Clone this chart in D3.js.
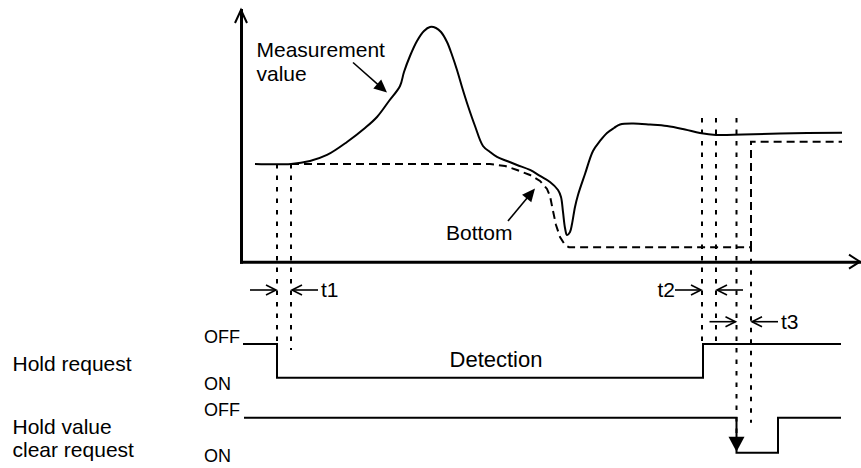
<!DOCTYPE html>
<html><head><meta charset="utf-8">
<script src="https://cdn.jsdelivr.net/npm/d3@7"></script>
<style>body{margin:0;background:#fff}svg{display:block}text{font-family:"Liberation Sans",Arial,Helvetica,sans-serif;fill:#000}</style>
</head><body><svg id="c" width="861" height="468"></svg>
<script>
// ---- data (time units, value units) ----
const measT = [1.4, 5.0, 6.9, 8.6, 10.6, 12.4, 13.6, 14.8, 15.9, 16.3, 16.9, 17.6, 18.3, 18.9, 19.5, 20.0, 20.6, 21.1, 21.6, 22.1, 22.7, 23.4, 24.2, 24.9, 25.6, 26.6, 27.6, 28.9, 29.9, 30.9, 31.7, 32.0, 32.2, 32.4, 32.6, 32.9, 33.1, 33.4, 33.7, 34.4, 35.2, 35.9, 36.6, 37.3, 37.9, 39.2, 40.9, 42.6, 44.4, 45.9, 47.5, 50.2, 53.9, 60.1];
const measV = [39.1, 39.1, 40.3, 42.7, 47.9, 53.5, 57.9, 64.3, 70.3, 75.9, 82.3, 88.3, 92.3, 93.9, 93.5, 91.9, 87.9, 82.7, 76.7, 69.9, 62.3, 54.3, 46.3, 43.9, 41.9, 40.3, 38.7, 36.7, 34.3, 31.9, 28.7, 25.9, 19.9, 13.5, 10.7, 11.9, 15.1, 21.9, 26.7, 35.1, 44.3, 48.3, 51.5, 53.5, 54.9, 55.3, 54.9, 54.3, 52.9, 51.5, 50.7, 50.9, 51.3, 51.6];
const bottomT = [5.0, 24.9, 26.4, 27.6, 28.9, 29.9, 30.6, 30.9, 31.2, 31.5, 31.9, 32.4, 32.8, 51.0, 51.0, 60.1];
const bottomV = [39.1, 39.1, 38.3, 36.7, 34.7, 32.3, 29.1, 26.3, 20.3, 14.7, 9.9, 6.7, 5.8, 5.8, 48.0, 48.0];
const holdReqT = [0.2, 3.6, 46.2, 60.0];
const holdReqState = ["OFF", "ON", "OFF", "OFF"];
const holdClrT = [0.3, 49.55, 53.7, 60.0];
const holdClrState = ["OFF", "ON", "OFF", "OFF"];
const markerT = [3.6, 5.0, 46.1, 47.5, 49.55, 51.0];
const markerTopV = [39.1, 39.1, 57.5, 57.5, 57.5, 5.8];
const intervalNames = ["t1", "t2", "t3"];
const intervalStart = [3.6, 46.1, 49.55];
const intervalEnd = [5.0, 47.5, 51.0];
const signalNames = [["Hold request"], ["Hold value", "clear request"]];
const stateLabels = ["OFF", "ON"];

// ---- scales ----
const svg = d3.select("#c");
const x = d3.scaleLinear().domain([0, 61.9]).range([241, 860]);
const y = d3.scaleLinear().domain([0, 100.7]).range([261.7, 10]);
const sigY = [
  d3.scaleOrdinal().domain(stateLabels).range([344, 377.7]),
  d3.scaleOrdinal().domain(stateLabels).range([417.7, 452.7])
];

function chevron(tx, ty, dx, dy, L, W, sw) {
  const nx = -dy, ny = dx;
  svg.append("path")
    .attr("d", `M${tx - L*dx + W*nx},${ty - L*dy + W*ny}L${tx},${ty}L${tx - L*dx - W*nx},${ty - L*dy - W*ny}`)
    .attr("fill", "none").attr("stroke", "#000").attr("stroke-width", sw);
}
function filledArrow(x1, y1, x2, y2, L, W, sw) {
  const len = Math.hypot(x2 - x1, y2 - y1), dx = (x2 - x1)/len, dy = (y2 - y1)/len;
  const nx = -dy, ny = dx;
  svg.append("line").attr("x1", x1).attr("y1", y1).attr("x2", x2 - L*dx*0.6).attr("y2", y2 - L*dy*0.6)
    .attr("stroke", "#000").attr("stroke-width", sw);
  svg.append("path")
    .attr("d", `M${x2},${y2}L${x2 - L*dx + W*nx},${y2 - L*dy + W*ny}L${x2 - L*dx - W*nx},${y2 - L*dy - W*ny}Z`)
    .attr("fill", "#000");
}

// ---- dotted markers ----
const markerBottom = [sigY[0]("OFF"), sigY[0]("OFF") + 6, sigY[0]("OFF"), sigY[0]("OFF") - 2, sigY[1]("ON") - 15, sigY[1]("OFF") + 5];
markerT.forEach((t, i) => {
  svg.append("line")
    .attr("x1", x(t)).attr("x2", x(t))
    .attr("y1", y(markerTopV[i])).attr("y2", markerBottom[i])
    .attr("stroke", "#000").attr("stroke-width", 2).attr("stroke-dasharray", "4.5,7");
});

// ---- curves ----
svg.append("path")
  .datum(measT.map((t, i) => [t, measV[i]]))
  .attr("d", d3.line().x(d => x(d[0])).y(d => y(d[1])).curve(d3.curveCatmullRom.alpha(0.5)))
  .attr("fill", "none").attr("stroke", "#000").attr("stroke-width", 2);
svg.append("path")
  .datum(bottomT.map((t, i) => [t, bottomV[i]]))
  .attr("d", d3.line().x(d => x(d[0])).y(d => y(d[1])))
  .attr("fill", "none").attr("stroke", "#000").attr("stroke-width", 2).attr("stroke-dasharray", "8,5");

// ---- axes ----
svg.append("g").attr("transform", `translate(0,${y(0)})`)
  .call(d3.axisBottom(x).tickValues([]).tickSizeOuter(0));
svg.append("g").attr("transform", `translate(${x(0)},0)`)
  .call(d3.axisLeft(y).tickValues([]).tickSizeOuter(0));
svg.selectAll(".domain").attr("stroke", "#000").attr("stroke-width", 3).attr("stroke-linecap", "square");
chevron(x(0), y(100.7), 0, -1, 13, 6, 2);
chevron(x(61.9), y(0), 1, 0, 11, 7, 2);

// ---- signals ----
const sigData = [[holdReqT, holdReqState], [holdClrT, holdClrState]];
sigData.forEach(([T, S], r) => {
  svg.append("path")
    .datum(T.map((t, i) => [t, S[i]]))
    .attr("d", d3.line().x(d => x(d[0])).y(d => sigY[r](d[1])).curve(d3.curveStepAfter))
    .attr("fill", "none").attr("stroke", "#000").attr("stroke-width", 2);
});
{
  const tx = x(holdClrT[1]), ty = sigY[1]("ON") - 1;
  svg.append("path").attr("d", `M${tx},${ty}L${tx - 8},${ty - 15}L${tx + 8},${ty - 15}Z`).attr("fill", "#000");
}

// signal labels
const nameY = [370.5, 433.5];
signalNames.forEach((lines, r) => {
  lines.forEach((s, k) => {
    svg.append("text").attr("x", 12.5).attr("y", nameY[r] + k * 23.7).attr("font-size", 21).text(s);
  });
});
sigY.forEach((sc, r) => {
  svg.append("text").attr("x", 204).attr("y", sc("OFF") - 1.5).attr("font-size", 18).text(stateLabels[0]);
  svg.append("text").attr("x", 204).attr("y", sc("ON") + (r === 0 ? 12.5 : 9.5)).attr("font-size", 18).text(stateLabels[1]);
});
svg.append("text").attr("x", x((holdReqT[1] + holdReqT[2]) / 2) + 6).attr("y", sigY[0]("ON") - 10.5)
  .attr("text-anchor", "middle").attr("font-size", 22).text("Detection");

// ---- interval arrows ----
const rowY = [290, 290, 321.7];
intervalNames.forEach((nm, i) => {
  const a = x(intervalStart[i]), b = x(intervalEnd[i]), yy = rowY[i];
  const tail = 27;
  svg.append("line").attr("x1", a - tail).attr("x2", a - 1).attr("y1", yy).attr("y2", yy).attr("stroke", "#000").attr("stroke-width", 1.6);
  chevron(a - 1, yy, 1, 0, 10, 5, 1.6);
  svg.append("line").attr("x1", b + 1).attr("x2", b + tail).attr("y1", yy).attr("y2", yy).attr("stroke", "#000").attr("stroke-width", 1.6);
  chevron(b + 1, yy, -1, 0, 10, 5, 1.6);
  if (i === 1) {
    svg.append("text").attr("x", a - tail).attr("y", yy + 7).attr("text-anchor", "end").attr("font-size", 21).text(nm);
  } else {
    svg.append("text").attr("x", b + tail + 3).attr("y", yy + 7).attr("font-size", 21).text(nm);
  }
});

// ---- annotations ----
svg.append("text").attr("x", 256.5).attr("y", 57).attr("font-size", 21).text("Measurement");
svg.append("text").attr("x", 256.5).attr("y", 80.5).attr("font-size", 21).text("value");
filledArrow(353, 62.5, 387, 92.5, 13, 6, 1.6);
svg.append("text").attr("x", 446).attr("y", 239.5).attr("font-size", 21).text("Bottom");
filledArrow(508, 221, 535, 188.5, 13, 6, 1.6);
</script></body></html>
